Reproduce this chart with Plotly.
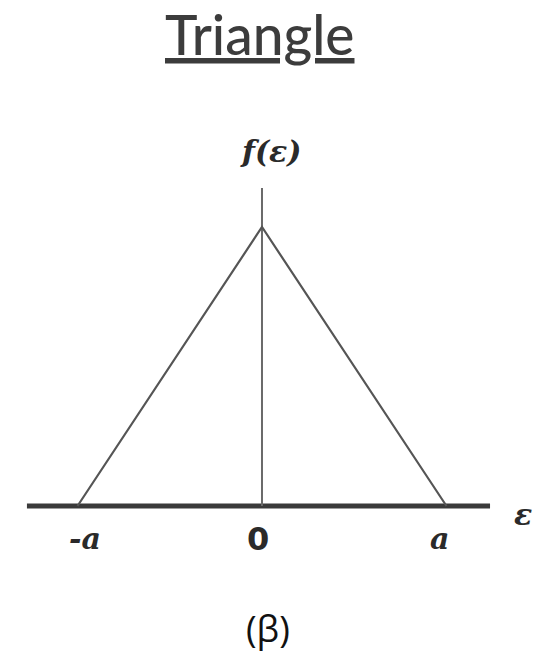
import plotly.graph_objects as go

# Triangular density f(eps) on [-a, a], with a = 1
a = 1.0
tri_x = [-a, 0.0, a]
tri_y = [0.0, 1.0, 0.0]

tick_vals = [-a, 0.0, a]
tick_text = ["<b><i>-a</i></b>", "<b>0</b>", "<b><i>a</i></b>"]
tick_font = ["DejaVu Serif", "DejaVu Sans", "DejaVu Serif"]
tick_size = [30, 32, 30]
tick_shift = [0.04 * a, -0.02 * a, -0.04 * a]

x_axis_span = [-1.274, 1.236]
y_axis_top = 1.14

fig = go.Figure()

# horizontal axis
fig.add_trace(go.Scatter(x=x_axis_span, y=[0, 0], mode="lines",
                         line=dict(color="#3a3a3a", width=5), hoverinfo="skip"))
# vertical axis
fig.add_trace(go.Scatter(x=[0, 0], y=[0, y_axis_top], mode="lines",
                         line=dict(color="#6a6a6a", width=2), hoverinfo="skip"))
# triangle
fig.add_trace(go.Scatter(x=tri_x, y=tri_y, mode="lines",
                         line=dict(color="#555555", width=2.2), hoverinfo="skip"))

for xv, txt, fam, sz, dx in zip(tick_vals, tick_text, tick_font, tick_size, tick_shift):
    fig.add_annotation(x=xv + dx, y=-0.118, text=txt, showarrow=False,
                       font=dict(family=fam, size=sz, color="#2a2a2a"))

fig.add_annotation(x=1.415, y=-0.032, text="<b><i>ε</i></b>", showarrow=False,
                   font=dict(family="DejaVu Serif", size=30, color="#2a2a2a"))
fig.add_annotation(x=0.049, y=1.272, text="<b><i>f(ε)</i></b>", showarrow=False,
                   font=dict(family="DejaVu Serif", size=30, color="#2a2a2a"))

fig.add_annotation(x=-0.016, xref="x", y=1.0, yref="paper", yanchor="top",
                   text="<u>Triangle</u>", showarrow=False, borderpad=0,
                   font=dict(family="Lato", size=55, color="#3c3c3c", weight=500))
fig.add_annotation(x=0.03, y=-0.44, text="(β)", showarrow=False, borderpad=0,
                   font=dict(family="Open Sans", size=36, color="#111111"))

fig.update_layout(
    width=554, height=656,
    margin=dict(l=0, r=0, t=0, b=0),
    paper_bgcolor="white", plot_bgcolor="white",
    showlegend=False,
    xaxis=dict(range=[-1.420, 1.5827], visible=False, fixedrange=True),
    yaxis=dict(range=[-0.5376, 1.8136], visible=False, fixedrange=True),
)

fig.write_html("out.html")
